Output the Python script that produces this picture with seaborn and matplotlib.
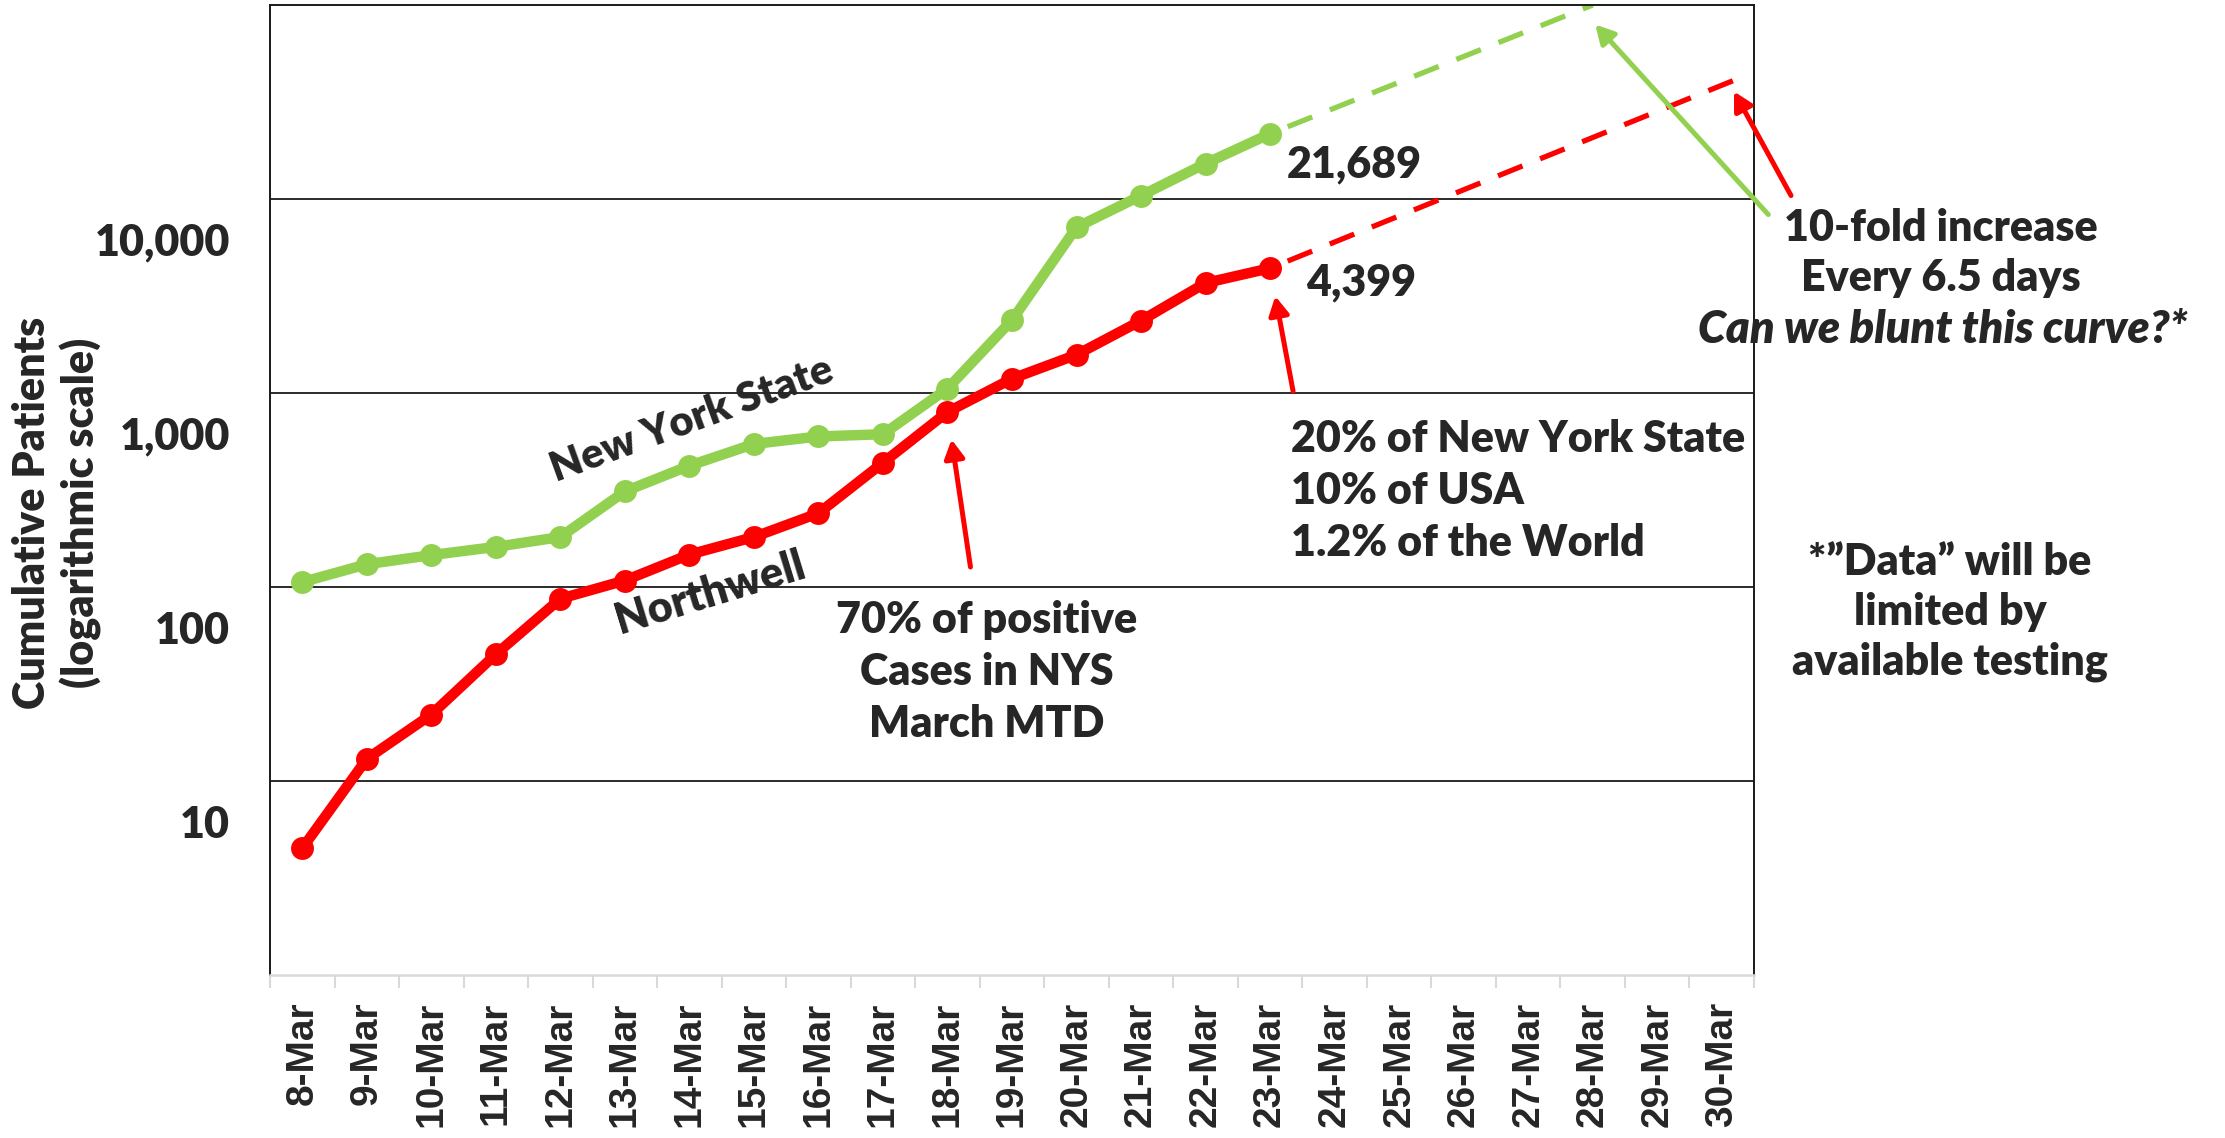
import numpy as np
import pandas as pd
import matplotlib
matplotlib.use("Agg")
import matplotlib.pyplot as plt
import matplotlib.transforms as mtransforms
from matplotlib.ticker import NullLocator
import seaborn as sns

# --- data ---
days = ["8-Mar", "9-Mar", "10-Mar", "11-Mar", "12-Mar", "13-Mar", "14-Mar", "15-Mar",
        "16-Mar", "17-Mar", "18-Mar", "19-Mar", "20-Mar", "21-Mar", "22-Mar", "23-Mar",
        "24-Mar", "25-Mar", "26-Mar", "27-Mar", "28-Mar", "29-Mar", "30-Mar"]
nys_cases = [106, 131, 146, 161, 181, 311, 422, 546, 597, 613, 1054, 2375,
             7145, 10410, 15240, 21689]
northwell_cases = [4.5, 13, 22, 45, 87, 108, 147, 181, 240, 437, 798, 1185,
                   1575, 2360, 3690, 4399]
# projected trend (day index from 8-Mar, cases)
nys_proj_day = [15, 20]
nys_proj = [21689, 100000]
nw_proj_day = [15, 22.35]
nw_proj = [4399, 43000]
ytick_values = [10, 100, 1000, 10000]
ytick_labels = ["10", "100", "1,000", "10,000"]

GREEN = "#92D050"
RED = "#FF0000"
W, H = 2225, 1138
BOLD = 780  # picks Lato Heavy if installed, else Lato Bold

sns.set_theme(style="white")
plt.rcParams["font.family"] = ["Lato", "DejaVu Sans"]

n_obs = len(nys_cases)
df = pd.DataFrame({
    "day": list(range(n_obs)) * 2,
    "cases": northwell_cases + nys_cases,
    "series": ["Northwell"] * n_obs + ["New York State"] * n_obs,
})

fig = plt.figure(figsize=(W / 100, H / 100), dpi=100)
ax = fig.add_axes([270 / W, 1 - 975 / H, 1484 / W, 970 / H])

# projections (dashed)
dash = (5, (5, 3.6))
ax.plot(nys_proj_day, nys_proj, color=GREEN, lw=3.8, linestyle=dash, zorder=2)
ax.plot(nw_proj_day, nw_proj, color=RED, lw=3.8, linestyle=dash, zorder=2)

sns.lineplot(data=df, x="day", y="cases", hue="series",
             hue_order=["Northwell", "New York State"],
             palette={"Northwell": RED, "New York State": GREEN},
             marker="o", markersize=16.5, markeredgewidth=0, linewidth=7.5,
             estimator=None, sort=False, legend=False, ax=ax, zorder=3)

ax.set_yscale("log")
ax.set_ylim(1, 1e5)
ax.set_xlim(-0.5, len(days) - 0.5)
ax.set_xlabel("")
ax.set_ylabel("")

# y axis: decade gridlines, labels sitting below the lines (as in the original)
ax.set_yticks(ytick_values)
ax.set_yticklabels(ytick_labels, fontsize=31, fontweight=BOLD)
ax.yaxis.set_minor_locator(NullLocator())
ax.tick_params(axis="y", which="both", length=0, pad=29, left=False)
shift = mtransforms.ScaledTranslation(0, -40 / 100, fig.dpi_scale_trans)
for lab in ax.get_yticklabels():
    lab.set_transform(lab.get_transform() + shift)
ax.grid(axis="y", color="#1a1a1a", linewidth=1.3)
ax.grid(axis="x", visible=False)

# x axis: category labels, grey tick marks between categories
ax.set_xticks(range(len(days)))
ax.set_xticklabels(days, rotation=90, fontsize=28, fontweight="bold",
                   family=["Liberation Sans", "DejaVu Sans"])
ax.set_xticks(np.arange(-0.5, len(days), 1), minor=True)
ax.tick_params(axis="x", which="major", length=0, pad=19, bottom=False)
ax.tick_params(axis="x", which="minor", length=9.5, width=1.5, color="#D9D9D9",
               direction="out", bottom=True)

for side in ["left", "top", "right"]:
    ax.spines[side].set_visible(True)
    ax.spines[side].set_color("#1a1a1a")
    ax.spines[side].set_linewidth(1.4)
ax.spines["bottom"].set_color("#D9D9D9")
ax.spines["bottom"].set_linewidth(1.8)

# value labels at the last observed points
ax.annotate("21,689", xy=(n_obs - 1, nys_cases[-1]), xytext=(17, -31),
            textcoords="offset pixels", ha="left", va="center",
            fontsize=31, fontweight=BOLD)
ax.annotate("4,399", xy=(n_obs - 1, northwell_cases[-1]), xytext=(36, -14),
            textcoords="offset pixels", ha="left", va="center",
            fontsize=31, fontweight=BOLD)

arrow = dict(arrowstyle="-|>,head_length=0.55,head_width=0.3", mutation_scale=20,
             lw=3.6, shrinkA=0)
ax.annotate("", xy=(10, northwell_cases[10]), xytext=(23, -155),
            textcoords="offset pixels",
            arrowprops=dict(arrow, color=RED, shrinkB=20))
ax.annotate("", xy=(n_obs - 1, northwell_cases[-1]), xytext=(23, -123),
            textcoords="offset pixels",
            arrowprops=dict(arrow, color=RED, shrinkB=20.5))
ax.annotate("", xy=(20.04, 79300), xytext=(173, -190), textcoords="offset pixels",
            arrowprops=dict(arrow, color=GREEN, shrinkB=0), annotation_clip=False)
ax.annotate("", xy=(22.19, 35800), xytext=(57, -104), textcoords="offset pixels",
            arrowprops=dict(arrow, color=RED, shrinkB=0), annotation_clip=False)


def px(x, y):
    return x / W, 1 - y / H


# series names
fig.text(*px(692, 420), "New York State", rotation=20, rotation_mode="anchor",
         ha="center", va="center", fontsize=30, fontweight=BOLD)
fig.text(*px(710, 593), "Northwell", rotation=17, rotation_mode="anchor",
         ha="center", va="center", fontsize=31, fontweight=BOLD)

# notes
fig.text(*px(987, 672), "70% of positive\nCases in NYS\nMarch MTD", ha="center",
         va="center", multialignment="center", fontsize=31, fontweight=BOLD,
         linespacing=1.35)
fig.text(*px(1291, 491), "20% of New York State\n10% of USA\n1.2% of the World",
         ha="left", va="center", fontsize=31, fontweight=BOLD, linespacing=1.35)
fig.text(*px(1941, 253), "10-fold increase\nEvery 6.5 days", ha="center",
         va="center", multialignment="center", fontsize=31, fontweight=BOLD,
         linespacing=1.3)
fig.text(*px(1943, 330), "Can we blunt this curve?*", ha="center", va="center",
         fontsize=32.5, fontweight=BOLD, style="italic")
fig.text(*px(1950, 612), "*\u201dData\u201d will be\nlimited by\navailable testing",
         ha="center", va="center", multialignment="center", fontsize=31,
         fontweight=BOLD, linespacing=1.3)

fig.text(*px(57, 513), "Cumulative Patients\n(logarithmic scale)", rotation=90,
         ha="center", va="center", multialignment="center", fontsize=31,
         fontweight=BOLD, linespacing=1.2)

fig.savefig("out.png", dpi=100)
